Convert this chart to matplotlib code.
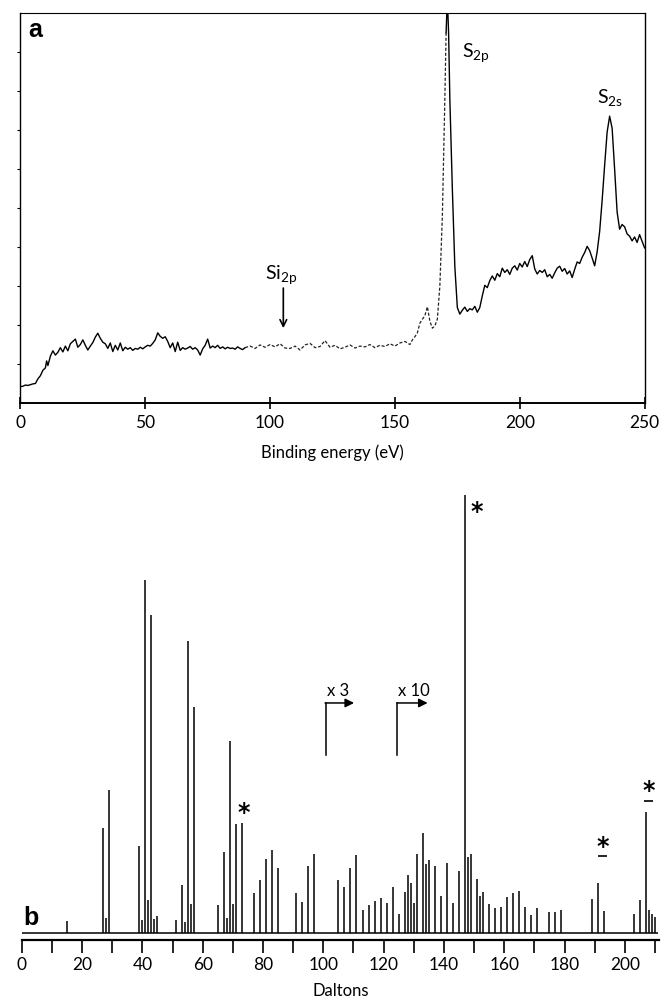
import matplotlib.pyplot as plt

plt.rcParams['font.family'] = ['Lato', 'DejaVu Sans']
plt.rcParams['mathtext.fontset'] = 'custom'
plt.rcParams['mathtext.rm'] = 'Lato'

# (a) XPS survey: binding energy (eV) vs. counts (arbitrary units)
energy = [0, 1, 2, 3, 4, 5, 6, 7, 8, 9, 10, 10.5, 11, 12, 13, 14, 15, 16, 17, 18, 19,
          20, 21, 22, 23, 24, 25, 26, 27, 28, 29, 30, 31, 32, 33, 34, 35, 36, 37, 38, 39,
          40, 41, 42, 43, 44, 45, 46, 47, 48, 49, 50, 51, 52, 53, 54, 55, 56, 57, 58, 59,
          60, 61, 62, 63, 64, 65, 66, 67, 68, 69, 70, 71, 72, 73, 74, 75, 76, 77, 78, 79,
          80, 81, 82, 83, 84, 85, 86, 87, 88, 89, 90, 92, 94, 96, 98, 100, 102, 104, 106,
          108, 110, 112, 114, 116, 118, 120, 122, 124, 126, 128, 130, 132, 134, 136, 138,
          140, 142, 144, 146, 148, 150, 152, 154, 156, 157, 158, 159, 160, 161, 162, 163,
          164, 165, 166, 167, 168, 169, 170, 170.5, 171, 171.5, 172, 173, 174, 175, 176,
          177, 178, 179, 180, 181, 182, 183, 184, 185, 186, 187, 188, 189, 190, 191, 192,
          193, 194, 195, 196, 197, 198, 199, 200, 201, 202, 203, 204, 205, 206, 207, 208,
          209, 210, 211, 212, 213, 214, 215, 216, 217, 218, 219, 220, 221, 222, 223, 224,
          225, 226, 227, 228, 229, 230, 231, 232, 233, 234, 235, 236, 237, 238, 239, 240,
          241, 242, 243, 244, 245, 246, 247, 248, 249, 250]
counts = [4.2, 4.3, 4.6, 4.5, 4.7, 4.9, 5.0, 6.2, 7.0, 8.4, 9.0, 10.8, 9.6, 12.0, 13.4,
          12.3, 13.0, 14.2, 13.1, 14.6, 13.4, 15.2, 15.8, 16.4, 14.3, 15.0, 16.2, 14.8,
          13.6, 14.6, 15.5, 16.9, 17.9, 16.6, 15.6, 15.2, 14.0, 15.4, 13.2, 14.8, 13.6,
          15.4, 13.4, 14.3, 13.8, 14.2, 13.5, 14.0, 13.8, 14.3, 13.9, 14.4, 14.8, 14.6,
          15.3, 16.2, 18.0, 17.1, 16.6, 17.0, 15.8, 14.2, 15.4, 13.2, 15.6, 13.5, 14.2,
          13.8, 14.1, 14.5, 13.8, 14.2, 13.6, 12.3, 13.9, 14.8, 16.4, 14.1, 14.6, 14.2,
          14.8, 14.0, 14.4, 13.9, 14.3, 14.0, 14.1, 13.8, 14.4, 14.0, 13.7, 14.2, 14.6,
          14.0, 14.9, 14.3, 15.0, 14.4, 15.2, 14.1, 14.0, 14.6, 13.6, 14.9, 15.3, 14.2,
          14.5, 16.0, 14.3, 14.8, 13.9, 14.3, 14.9, 14.1, 14.6, 14.4, 15.0, 14.2, 14.8,
          14.5, 15.2, 14.6, 15.4, 15.8, 15.0, 16.2, 17.0, 18.0, 20.5, 21.5, 22.4, 24.7,
          21.0, 19.2, 19.8, 21.5, 30.0, 48.0, 78.0, 95.0, 104.0, 95.0, 78.0, 55.0, 35.0,
          24.5, 22.8, 23.8, 24.6, 23.5, 24.2, 23.9, 24.8, 23.3, 24.5, 27.5, 30.2, 29.6,
          31.4, 32.6, 31.5, 33.2, 32.4, 34.6, 33.5, 34.2, 33.0, 34.6, 35.2, 34.1, 35.8,
          34.9, 36.3, 35.0, 36.8, 37.8, 34.4, 33.1, 34.0, 33.5, 34.2, 32.4, 33.0, 32.0,
          33.4, 34.6, 35.1, 33.8, 34.5, 33.1, 33.9, 32.2, 34.3, 36.2, 35.8, 37.4, 38.6,
          40.2, 39.1, 37.2, 35.2, 38.8, 44.0, 52.0, 61.0, 69.5, 73.6, 70.5, 60.0, 49.0,
          44.6, 45.8, 45.2, 43.4, 42.8, 41.6, 42.6, 41.2, 43.2, 41.5, 39.8]

# (b) SIMS spectrum: mass (Da) and relative intensity (%)
masses = [15, 27, 28, 29, 39, 40, 41, 42, 43, 44, 45, 51, 53, 54, 55, 56, 57,
          65, 67, 68, 69, 70, 71, 73, 77, 79, 81, 83, 85, 91, 93, 95, 97,
          105, 107, 109, 111, 113, 115, 117, 119, 121, 123, 125, 127, 128, 129,
          130, 131, 133, 134, 135, 137, 139, 141, 143, 145, 147, 148, 149, 151,
          152, 153, 155, 157, 159, 161, 163, 165, 167, 169, 171, 175, 177, 179,
          189, 191, 193, 203, 205, 207, 208, 209, 210]
intensity = [2.7, 24.0, 3.5, 32.6, 19.8, 2.9, 80.6, 7.5, 72.6, 3.3, 3.8, 2.9, 10.9,
             2.5, 66.7, 6.7, 51.6, 6.5, 18.5, 3.4, 43.9, 6.7, 24.8, 25.0, 9.2, 12.2,
             17.0, 18.9, 14.9, 9.2, 7.1, 15.2, 18.0, 12.0, 10.5, 14.8, 17.7, 5.3, 6.3,
             7.2, 8.1, 6.8, 10.5, 4.3, 9.4, 13.3, 11.3, 6.8, 18.0, 22.8, 15.8, 16.6,
             15.2, 8.5, 16.0, 6.8, 14.1, 100.0, 17.3, 18.1, 12.3, 8.4, 9.4, 6.7, 5.6,
             5.9, 8.2, 9.1, 9.5, 5.9, 4.2, 5.6, 4.8, 4.8, 5.2, 7.7, 11.4, 5.0, 4.3, 7.5,
             27.6, 5.2, 4.4, 3.6]

fig = plt.figure(figsize=(6.65, 9.98), dpi=100)

# ---- panel a ----
ax1 = fig.add_axes([0.0307, 0.5962, 0.9386, 0.3905])
n0 = energy.index(90)
n1 = energy.index(170.5)
ax1.plot(energy[:n0 + 1], counts[:n0 + 1], color='black', lw=1.0)
ax1.plot(energy[n0:n1 + 1], counts[n0:n1 + 1], color='#222222', lw=0.9,
         linestyle=(0, (2.5, 1.5)))
ax1.plot(energy[n1:], counts[n1:], color='black', lw=1.0)
ax1.set_xlim(0, 250)
ax1.set_ylim(0, 100)
ax1.set_xticks(range(0, 251, 50))
ax1.set_yticks(range(10, 100, 10))
ax1.set_yticklabels([])
ax1.tick_params(axis='x', direction='inout', length=9, width=1.2, labelsize=12.5, pad=4)
ax1.tick_params(axis='y', direction='out', length=2.5, width=0.8)
for s in ax1.spines.values():
    s.set_linewidth(1.0)
ax1.spines['bottom'].set_linewidth(1.4)
ax1.spines['top'].set_linewidth(0.8)
ax1.set_xlabel('Binding energy (eV)', fontsize=12, labelpad=10)

ax1.text(0.012, 0.939, 'a', transform=ax1.transAxes, fontsize=18,
         fontweight='bold', family='Liberation Sans', va='baseline')
ax1.text(177, 90, r'$\mathrm{S_{2p}}$', fontsize=14, va='center')
ax1.text(231, 78.4, r'$\mathrm{S_{2s}}$', fontsize=14, va='center')
ax1.text(98, 33, r'$\mathrm{Si_{2p}}$', fontsize=14, va='center')
ax1.annotate('', xy=(105.3, 19.2), xytext=(105.3, 29.5),
             arrowprops=dict(arrowstyle='->', lw=1.2, color='black',
                             shrinkA=0, shrinkB=0, mutation_scale=12))

# ---- panel b ----
ax2 = fig.add_axes([0.0328, 0.0581, 0.9589, 0.4509])
ax2.vlines(masses, 0, intensity, color='black', lw=1.1)
ax2.hlines(0, 0, 211, color='black', lw=1.1)
ax2.set_xlim(0, 211.5)
ax2.set_ylim(-1.6, 101.1)
for side in ['left', 'top', 'right']:
    ax2.spines[side].set_visible(False)
ax2.spines['bottom'].set_linewidth(1.6)
ax2.set_yticks([])
ax2.set_xticks(range(0, 201, 20))
ax2.set_xticks(range(10, 211, 20), minor=True)
ax2.tick_params(axis='x', which='both', direction='out', length=9.5, width=1.2,
                labelsize=12.5, pad=3)
ax2.set_xlabel('Daltons', fontsize=12, labelpad=7)

ax2.text(0.5, 1.8, 'b', fontsize=18, fontweight='bold', family='Liberation Sans',
         va='baseline')

# marker stars on the siloxane fragments
star = dict(fontsize=17, fontweight='bold', family='DejaVu Sans', ha='center',
            va='center')
ax2.text(151.0, 96.0, '*', **star)
ax2.text(73.7, 27.5, '*', **star)
ax2.text(192.6, 19.6, '*', **star)
ax2.text(207.8, 32.3, '*', **star)
ax2.hlines([17.6, 30.1], [191.2, 206.3], [194.2, 209.4], color='black', lw=1.2)

# gain changes
for x0, x1, lab in [(100.8, 110.2, 'x 3'), (124.6, 134.6, 'x 10')]:
    ax2.plot([x0, x0], [40.6, 52.5], color='black', lw=1.1)
    ax2.annotate('', xy=(x1, 52.5), xytext=(x0 - 0.2, 52.5),
                 arrowprops=dict(arrowstyle='-|>', lw=1.1, color='black',
                                 shrinkA=0, shrinkB=0, mutation_scale=13))
    ax2.text(x0 + 0.3, 55.3, lab, fontsize=12, va='center', ha='left')

fig.savefig('out.png', dpi=100)
